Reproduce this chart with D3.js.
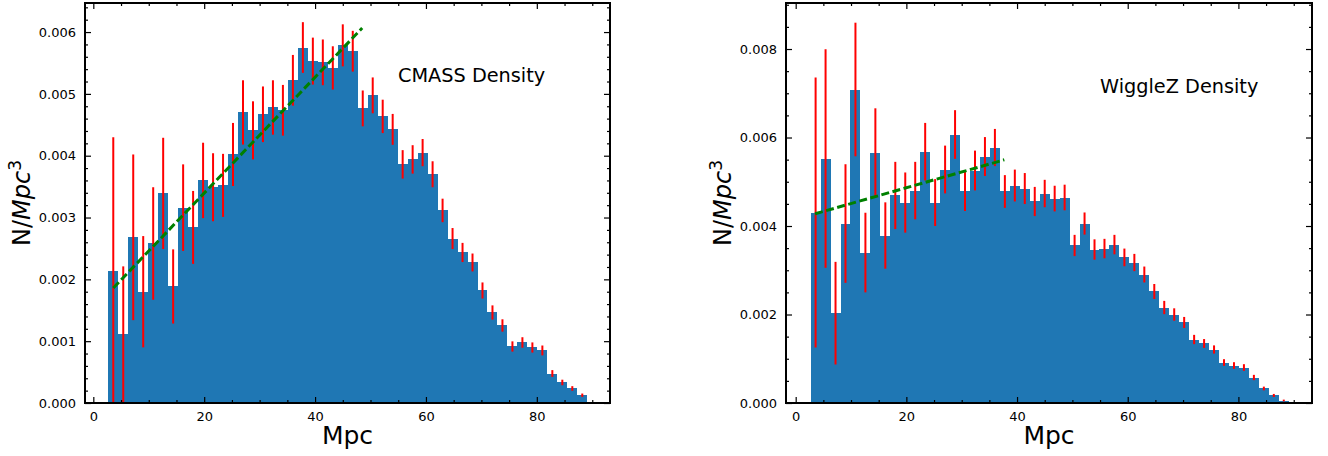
<!DOCTYPE html>
<html><head><meta charset="utf-8">
<script src="https://cdn.jsdelivr.net/npm/d3@7"></script>
<style>
html,body{margin:0;padding:0;background:#fff;}
svg text{font-family:"DejaVu Sans",sans-serif;fill:#000;}
</style></head>
<body><svg id="chart" width="1328" height="456"></svg>
<script>
// ---- data ----
const binStart = 2.7;
const binWidth = 1.8;
const cmassValues = [0.00214,0.00111,0.00268,0.00180,0.00258,0.00339,0.001885,0.00316,0.00284,0.00360,0.00349,0.00352,0.00402,0.00470,0.00441,0.00467,0.00478,0.004735,0.00522,0.00575,0.00553,0.00551,0.00542,0.005785,0.00569,0.004765,0.004976,0.004636,0.004426,0.00386,0.00394,0.00405,0.00370,0.003115,0.00266,0.002435,0.002273,0.00182,0.001464,0.001254,0.000914,0.000979,0.000898,0.00085,0.000477,0.000332,0.000235,0.000126];
const cmassErrors = [0.00216,0.00110,0.00134,0.00090,0.00091,0.00090,0.00060,0.00070,0.00059,0.00061,0.00055,0.00051,0.00051,0.00052,0.00047,0.00045,0.00044,0.00041,0.00041,0.00041,0.00038,0.00037,0.00035,0.00034,0.00033,0.00029,0.00029,0.00027,0.00025,0.00023,0.00023,0.00022,0.00021,0.00019,0.00017,0.000155,0.000145,0.00013,0.000115,0.00010,0.000083,0.000085,0.000082,0.00008,0.000055,0.000045,0.000037,0.000027];
const wiggleValues = [0.004305,0.005525,0.00203,0.004056,0.007085,0.00340,0.00566,0.003785,0.00469,0.00453,0.00480,0.00568,0.00453,0.005277,0.006068,0.00480,0.005254,0.00557,0.005774,0.00478,0.004915,0.004847,0.004554,0.004734,0.00462,0.004644,0.00356,0.004056,0.003469,0.00349,0.00358,0.00329,0.003175,0.002904,0.00252,0.002158,0.00200,0.00182,0.001435,0.001345,0.001209,0.000915,0.000847,0.000802,0.000576,0.000328,0.00017,0.000056];
const wiggleErrors = [0.00305,0.00247,0.00116,0.00134,0.00151,0.00090,0.00100,0.00075,0.00076,0.00068,0.00065,0.00065,0.00053,0.00054,0.00055,0.00046,0.00045,0.00044,0.00042,0.00037,0.00036,0.00035,0.00033,0.00031,0.00029,0.00029,0.00024,0.00025,0.00023,0.00022,0.00022,0.00020,0.000195,0.00018,0.00017,0.00015,0.00014,0.000125,0.000105,0.00010,0.000093,0.000075,0.000075,0.000075,0.00006,0.000042,0.000035,0.00002];
const cmassFitX = [3.6, 48.5];
const cmassFitY = [0.00186, 0.006065];
const wiggleFitX = [3.5, 37.7];
const wiggleFitY = [0.004276, 0.005496];
const xTicks = [0, 20, 40, 60, 80];
const xMinorTicks = [5,10,15,25,30,35,45,50,55,65,70,75,85,90];
const cmassYTicks = [0, 0.001, 0.002, 0.003, 0.004, 0.005, 0.006];
const cmassYMinor = [0.0002,0.0004,0.0006,0.0008,0.0012,0.0014,0.0016,0.0018,0.0022,0.0024,0.0026,0.0028,0.0032,0.0034,0.0036,0.0038,0.0042,0.0044,0.0046,0.0048,0.0052,0.0054,0.0056,0.0058,0.0062,0.0064];
const wiggleYTicks = [0, 0.002, 0.004, 0.006, 0.008];
const wiggleYMinor = [0.0005,0.001,0.0015,0.0025,0.003,0.0035,0.0045,0.005,0.0055,0.0065,0.007,0.0075,0.0085,0.009];
const cmassTitle = "CMASS Density";
const wiggleTitle = "WiggleZ Density";
const xLabel = "Mpc";

const svg = d3.select("#chart");

function panel(opt){
  const g = svg.append("g");
  const x = d3.scaleLinear().domain(opt.xDomain).range([opt.x0, opt.x1]);
  const y = d3.scaleLinear().domain(opt.yDomain).range([opt.y1, opt.y0]);
  const bins = opt.values.map((v,i)=>({x0: binStart + i*binWidth, x1: binStart + (i+1)*binWidth, v, e: opt.errors[i]}));
  // bars
  g.selectAll("rect.bar").data(bins).enter().append("rect")
    .attr("x", d=>Math.round(x(d.x0))).attr("width", d=>Math.round(x(d.x1))-Math.round(x(d.x0)))
    .attr("y", d=>y(d.v)).attr("height", d=>y(0)-y(d.v))
    .attr("shape-rendering","crispEdges")
    .attr("fill", "#1f77b4");
  // error bars
  g.selectAll("line.err").data(bins).enter().append("line")
    .attr("x1", d=>x((d.x0+d.x1)/2)).attr("x2", d=>x((d.x0+d.x1)/2))
    .attr("y1", d=>y(Math.max(0,d.v-d.e))).attr("y2", d=>y(d.v+d.e))
    .attr("stroke", "#ff0000").attr("stroke-width", 2);
  // fit line
  const line = d3.line().x(d=>x(d[0])).y(d=>y(d[1]));
  g.append("path").datum(opt.fitX.map((xx,i)=>[xx, opt.fitY[i]]))
    .attr("d", line).attr("fill","none").attr("stroke","#008000")
    .attr("stroke-width", 3).attr("stroke-dasharray","8,3.5");
  // axes with inward ticks
  const H = opt.y1-opt.y0, W = opt.x1-opt.x0;
  const axB = d3.axisBottom(x).tickValues(xTicks).tickFormat(d3.format("d")).tickSizeInner(-6).tickSizeOuter(0).tickPadding(9);
  const axBm = d3.axisBottom(x).tickValues(xMinorTicks).tickFormat("").tickSizeInner(-3).tickSizeOuter(0);
  const axT = d3.axisTop(x).tickValues(xTicks).tickFormat("").tickSizeInner(-6).tickSizeOuter(0);
  const axTm = d3.axisTop(x).tickValues(xMinorTicks).tickFormat("").tickSizeInner(-3).tickSizeOuter(0);
  const axL = d3.axisLeft(y).tickValues(opt.yTicks).tickFormat(d3.format(".3f")).tickSizeInner(-6).tickSizeOuter(0).tickPadding(9);
  const axLm = d3.axisLeft(y).tickValues(opt.yMinor).tickFormat("").tickSizeInner(-3).tickSizeOuter(0);
  const axR = d3.axisRight(y).tickValues(opt.yTicks).tickFormat("").tickSizeInner(-6).tickSizeOuter(0);
  const axRm = d3.axisRight(y).tickValues(opt.yMinor).tickFormat("").tickSizeInner(-3).tickSizeOuter(0);
  const add = (ax, tx, ty) => {
    const a = g.append("g").attr("transform", `translate(${tx},${ty})`).call(ax);
    a.select(".domain").remove();
    a.selectAll(".tick line").attr("stroke","#000").attr("stroke-width",1.2);
    a.selectAll("text").style("font-family","DejaVu Sans").style("font-size","13px").attr("fill","#000");
    return a;
  };
  add(axB, 0, opt.y1); add(axBm, 0, opt.y1);
  add(axT, 0, opt.y0); add(axTm, 0, opt.y0);
  add(axL, opt.x0, 0); add(axLm, opt.x0, 0);
  add(axR, opt.x1, 0); add(axRm, opt.x1, 0);
  // frame
  g.append("rect").attr("x",opt.x0).attr("y",opt.y0).attr("width",W).attr("height",H)
    .attr("fill","none").attr("stroke","#000").attr("stroke-width",2);
  // title text
  g.append("text").attr("x", opt.titleX).attr("y", opt.titleY)
    .style("font-size","19.3px").text(opt.title);
  // x label
  g.append("text").attr("x",(opt.x0+opt.x1)/2).attr("y",444).attr("text-anchor","middle")
    .style("font-size","25px").text(xLabel);
  // y label
  const yl = g.append("text").attr("transform",`translate(${opt.yLabelX},${(opt.y0+opt.y1)/2}) rotate(-90)`)
    .attr("text-anchor","middle").style("font-size","24px");
  yl.append("tspan").text("N/");
  yl.append("tspan").style("font-style","italic").text("Mpc");
  yl.append("tspan").attr("dy",-9).style("font-size","17px").text("3");
}

panel({x0:85, x1:610, y0:3, y1:403, xDomain:[-1.5,93.2], yDomain:[0,0.00647],
  values:cmassValues, errors:cmassErrors, fitX:cmassFitX, fitY:cmassFitY,
  yTicks:cmassYTicks, yMinor:cmassYMinor,
  title:cmassTitle, titleX:398, titleY:82, yLabelX:30});
panel({x0:786, x1:1312, y0:3, y1:403, xDomain:[-1.75,93.3], yDomain:[0,0.00904],
  values:wiggleValues, errors:wiggleErrors, fitX:wiggleFitX, fitY:wiggleFitY,
  yTicks:wiggleYTicks, yMinor:wiggleYMinor,
  title:wiggleTitle, titleX:1100, titleY:93, yLabelX:731});
</script></body></html>
